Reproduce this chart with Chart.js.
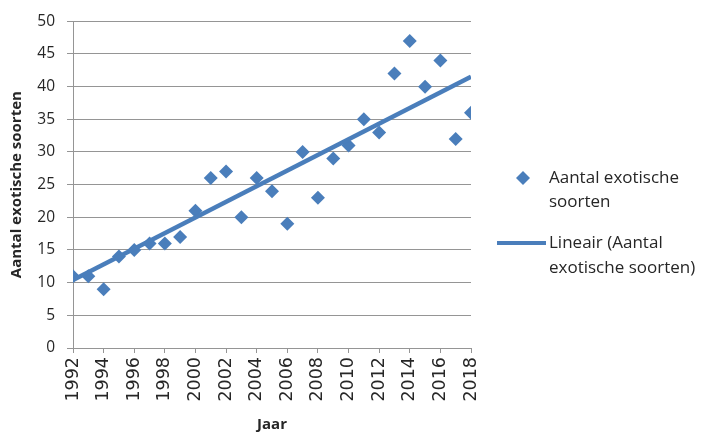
<!DOCTYPE html>
<html>
<head>
<meta charset="utf-8">
<script src="https://cdn.jsdelivr.net/npm/chart.js@4"></script>
<style>
  html, body { margin: 0; padding: 0; background: #fff; }
  #wrap { width: 709px; height: 436px; }
</style>
</head>
<body>
<div id="wrap"><canvas id="soortenChart" width="709" height="436"></canvas></div>
<script>
// Data
const years = [1992, 1993, 1994, 1995, 1996, 1997, 1998, 1999, 2000, 2001, 2002, 2003, 2004, 2005,
  2006, 2007, 2008, 2009, 2010, 2011, 2012, 2013, 2014, 2015, 2016, 2017, 2018];
const soorten = [11, 11, 9, 14, 15, 16, 16, 17, 21, 26, 27, 20, 26, 24,
  19, 30, 23, 29, 31, 35, 33, 42, 47, 40, 44, 32, 36];
const trendYears = [1992, 2018];
const trendValues = [10.4, 41.5];
const yTicks = [0, 5, 10, 15, 20, 25, 30, 35, 40, 45, 50];
const xTicks = [1992, 1994, 1996, 1998, 2000, 2002, 2004, 2006, 2008, 2010, 2012, 2014, 2016, 2018];

const blue = "#4A7EBB";
const gridGrey = "#959595";
const textColor = "#262626";

// Legend at the right, lines wrapped like the original
const legendLines = [
  ["Aantal exotische", "soorten"],
  ["Lineair (Aantal", "exotische soorten)"]
];

const sideLegend = {
  id: "sideLegend",
  afterDraw(chart) {
    const ctx = chart.ctx;
    const x0 = chart.chartArea.right;
    ctx.save();
    ctx.font = "17px 'Open Sans'";
    ctx.textBaseline = "middle";
    ctx.textAlign = "left";

    // diamond marker
    ctx.fillStyle = blue;
    ctx.beginPath();
    ctx.moveTo(x0 + 52, 171);
    ctx.lineTo(x0 + 59, 178);
    ctx.lineTo(x0 + 52, 185);
    ctx.lineTo(x0 + 45, 178);
    ctx.closePath();
    ctx.fill();

    ctx.fillStyle = textColor;
    legendLines[0].forEach((t, i) => ctx.fillText(t, x0 + 78, 178 + i * 24));

    // trendline sample
    ctx.strokeStyle = blue;
    ctx.lineWidth = 4;
    ctx.beginPath();
    ctx.moveTo(x0 + 26, 243);
    ctx.lineTo(x0 + 75, 243);
    ctx.stroke();
    legendLines[1].forEach((t, i) => ctx.fillText(t, x0 + 78, 243 + i * 25));
    ctx.restore();
  }
};

const ctx = document.getElementById("soortenChart").getContext("2d");

new Chart(ctx, {
  type: "scatter",
  data: {
    datasets: [
      {
        label: "Aantal exotische soorten",
        data: years.map((y, i) => ({ x: y, y: soorten[i] })),
        pointStyle: "rectRot",
        pointRadius: 7,
        pointHoverRadius: 7,
        backgroundColor: blue,
        borderColor: blue,
        borderWidth: 0,
        order: 1
      },
      {
        label: "Lineair (Aantal exotische soorten)",
        type: "line",
        data: trendYears.map((y, i) => ({ x: y, y: trendValues[i] })),
        borderColor: blue,
        borderWidth: 4.5,
        pointRadius: 0,
        fill: false,
        order: 0
      }
    ]
  },
  options: {
    responsive: false,
    animation: false,
    layout: { padding: { top: 15, right: 238, left: 0, bottom: 0 } },
    plugins: {
      legend: { display: false },
      tooltip: { enabled: false }
    },
    scales: {
      x: {
        type: "linear",
        min: 1992,
        max: 2018,
        afterBuildTicks: scale => { scale.ticks = xTicks.map(v => ({ value: v })); },
        afterFit: scale => { scale.height = 88; },
        grid: {
          drawOnChartArea: false,
          drawTicks: true,
          tickLength: 5,
          color: gridGrey
        },
        border: { color: gridGrey, width: 1 },
        ticks: {
          minRotation: 90,
          maxRotation: 90,
          padding: 4,
          color: textColor,
          font: { family: "'DejaVu Sans'", size: 17.5 },
          callback: v => String(v)
        },
        title: {
          display: true,
          text: "Jaar",
          color: textColor,
          font: { family: "'Open Sans'", size: 15, weight: "bold" },
          padding: { top: 0, bottom: 2 }
        }
      },
      y: {
        min: 0,
        max: 50,
        afterBuildTicks: scale => { scale.ticks = yTicks.map(v => ({ value: v })); },
        afterFit: scale => { scale.width = 73; },
        grid: {
          color: gridGrey,
          tickLength: 6,
          lineWidth: 1
        },
        border: { color: gridGrey, width: 1 },
        ticks: {
          padding: 12,
          color: textColor,
          font: { family: "'Open Sans'", size: 15.5 }
        },
        title: {
          display: true,
          text: "Aantal exotische soorten",
          color: textColor,
          font: { family: "'Open Sans'", size: 15, weight: "bold" },
          padding: { top: 8, bottom: 0 }
        }
      }
    }
  },
  plugins: [sideLegend]
});
</script>
</body>
</html>
